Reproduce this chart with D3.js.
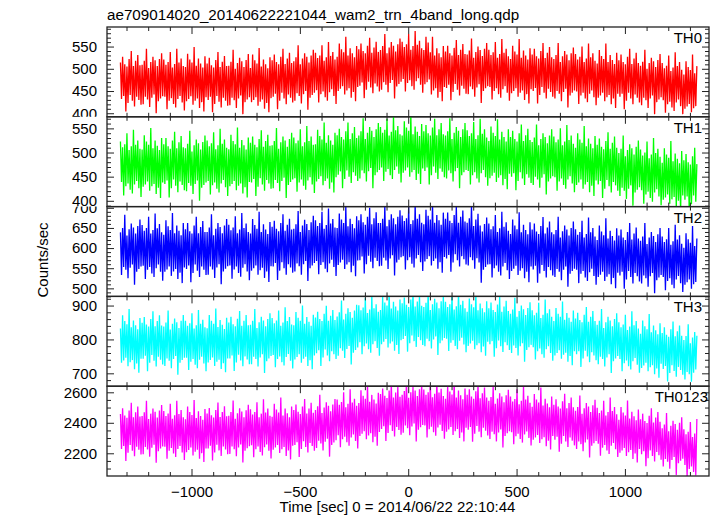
<!DOCTYPE html>
<html>
<head>
<meta charset="utf-8">
<script src="https://cdn.jsdelivr.net/npm/d3@7"></script>
<style>
  html, body { margin: 0; padding: 0; background: #fff; }
  svg { display: block; font-family: "Liberation Sans", Arial, Helvetica, sans-serif; }
</style>
</head>
<body>
<svg id="chart" width="717" height="516"></svg>
<script>
// ---------- data ----------
const title = "ae709014020_20140622221044_wam2_trn_4band_long.qdp";
const xLabel = "Time [sec] 0 = 2014/06/22 22:10:44";
const yLabel = "Counts/sec";
const bands = ["TH0", "TH1", "TH2", "TH3", "TH0123"];
const colors = ["#ff0000", "#00ff00", "#0000ff", "#00ffff", "#ff00ff"];
const timeStart = -1328;   // sec, first bin
const timeStep = 5;        // sec per bin
const xDomain = [-1390, 1388];
const xTicks = [-1000, -500, 0, 500, 1000];
const xMinorStep = 100;
const yDomains = [[392, 594], [388, 574], [480, 703], [662, 927], [2051, 2640]];
const yTicks = [[400, 450, 500, 550], [400, 450, 500, 550], [500, 550, 600, 650, 700], [700, 800, 900], [2200, 2400, 2600]];
const yMinorSteps = [10, 10, 10, 20, 50];

const th0 = [
514,432,527,439,510,404,505,423,522,441,540,428,506,415,518,437,531,430,508,419,
509,420,518,437,545,431,502,414,515,435,527,442,519,400,506,427,522,433,535,438,
521,437,509,409,515,428,538,434,503,421,511,413,545,432,514,439,523,424,506,406,
504,427,534,432,521,438,514,419,549,428,507,433,523,412,512,425,503,404,528,436,
512,430,525,437,508,402,503,421,520,439,538,426,504,413,516,435,529,428,506,417,
507,418,516,435,543,429,500,412,513,433,525,440,517,398,504,425,520,431,533,436,
502,425,532,430,519,436,512,417,547,426,505,431,521,410,510,423,501,402,526,434,
519,437,532,444,515,409,510,428,527,446,545,433,511,420,523,442,536,435,513,424,
517,428,526,445,553,439,510,422,523,443,535,450,527,408,514,435,530,441,543,446,
536,452,524,424,530,443,553,449,518,436,526,428,560,447,529,454,538,439,521,421,
527,450,557,455,544,461,537,442,572,451,530,456,546,435,535,448,526,427,551,459,
544,462,557,469,540,434,535,453,552,471,570,458,536,445,548,467,561,460,538,449,
542,453,551,470,578,464,535,447,548,468,560,475,552,433,539,460,555,466,568,471,
561,477,549,449,555,468,578,474,543,461,551,453,585,472,554,479,563,464,546,446,
542,465,572,470,559,476,537,442,572,451,530,456,546,435,535,448,526,427,551,459,
539,457,552,464,535,429,530,448,547,466,565,453,531,440,543,462,556,455,533,444,
532,443,541,460,568,454,525,437,538,458,550,465,542,423,529,450,545,456,558,461,
543,459,531,431,537,450,560,456,525,443,533,435,567,454,536,461,545,446,528,428,
522,445,552,450,539,456,532,437,567,446,525,451,541,430,530,443,521,422,546,454,
532,450,545,457,528,422,523,441,540,459,558,446,524,433,536,455,549,448,526,437,
522,433,531,450,558,444,515,427,528,448,540,455,532,413,519,440,535,446,548,451,
533,449,521,421,527,440,550,446,515,433,523,425,557,444,526,451,535,436,518,418,
512,435,542,440,529,446,522,427,557,436,515,441,531,420,520,433,511,412,536,444,
519,437,532,444,515,409,510,428,527,446,545,433,511,420,523,442,536,435,513,424,
507,418,516,435,543,429,500,412,513,433,525,440,517,398,504,425,520,431,533,436,
513,429,501,401,507,420,530,426,495,413,503,405,537,424,506,431,515,416,498,398,
487,410,517,415,504,421,497,402,532,411,490,416,506
];
const th1 = [
523,439,511,411,517,430,540,436,505,423,513,415,547,434,516,441,525,426,508,408,
506,429,536,434,523,440,516,421,551,430,509,435,525,414,514,427,505,406,530,438,
517,435,530,442,513,407,508,426,525,444,543,431,509,418,521,440,534,433,511,422,
509,420,518,437,545,431,502,414,515,435,527,442,519,400,506,427,522,433,535,438,
525,441,513,413,519,432,542,438,507,425,515,417,549,436,518,443,527,428,510,410,
507,430,537,435,524,441,517,422,552,431,510,436,526,415,515,428,506,407,531,439,
520,438,533,445,516,410,511,429,528,447,546,434,512,421,524,443,537,436,514,425,
515,426,524,443,551,437,508,420,521,441,533,448,525,406,512,433,528,439,541,444,
531,447,519,419,525,438,548,444,513,431,521,423,555,442,524,449,533,434,516,416,
517,440,547,445,534,451,527,432,562,441,520,446,536,425,525,438,516,417,541,449,
536,454,549,461,532,426,527,445,544,463,562,450,528,437,540,459,553,452,530,441,
535,446,544,463,571,457,528,440,541,461,553,468,545,426,532,453,548,459,561,464,
553,469,541,441,547,460,570,466,535,453,543,445,577,464,546,471,555,456,538,438,
535,458,565,463,552,469,545,450,580,459,538,464,554,443,543,456,534,435,559,467,
544,462,557,469,540,434,535,453,552,471,570,458,536,445,548,467,561,460,538,449,
535,446,544,463,571,457,528,440,541,461,553,468,545,426,532,453,548,459,561,464,
546,462,534,434,540,453,563,459,528,446,536,438,570,457,539,464,548,449,531,431,
524,447,554,452,541,458,534,439,569,448,527,453,543,432,532,445,523,424,548,456,
532,450,545,457,528,422,523,441,540,459,558,446,524,433,536,455,549,448,526,437,
522,433,531,450,558,444,515,427,528,448,540,455,532,413,519,440,535,446,548,451,
533,449,521,421,527,440,550,446,515,433,523,425,557,444,526,451,535,436,518,418,
510,433,540,438,527,444,520,425,555,434,513,439,529,418,518,431,509,410,534,442,
516,434,529,441,512,406,507,425,524,443,542,430,508,417,520,439,533,432,510,421,
499,410,508,427,535,421,492,404,505,425,517,432,509,390,496,417,512,423,525,428,
506,422,494,394,500,413,523,419,488,406,496,398,530,417,499,424,508,409,491,391,
479,402,509,407,496,413,489,394,524,403,482,408,498,387,487,400,478,379,503,411,
484,402,497,409,480,374,475,393,492,411,510,398,476
];
const th2 = [
639,533,650,553,683,546,631,525,647,551,661,559,651,509,636,541,655,548,671,554,
657,556,643,523,650,546,678,553,636,537,645,528,686,550,649,559,660,541,639,519,
633,541,669,547,654,554,645,531,687,542,637,548,656,523,643,539,632,513,662,552,
647,548,662,557,642,515,636,538,656,559,678,544,637,528,652,554,667,546,640,533,
640,534,651,554,684,547,632,526,648,552,662,560,652,510,637,542,656,549,672,555,
658,557,644,524,651,547,679,554,637,538,646,529,687,551,650,560,661,542,640,520,
636,544,672,550,657,557,648,534,690,545,640,551,659,526,646,542,635,516,665,555,
653,554,668,563,648,521,642,544,662,565,684,550,643,534,658,560,673,552,646,539,
648,542,659,562,692,555,640,534,656,560,670,568,660,518,645,550,664,557,680,563,
669,568,655,535,662,558,690,565,648,549,657,540,698,562,661,571,672,553,651,531,
650,558,686,564,671,571,662,548,704,559,654,565,673,540,660,556,649,530,679,569,
669,570,684,579,664,537,658,560,678,581,700,566,659,550,674,576,689,568,662,555,
662,556,673,576,706,569,654,548,670,574,684,582,674,532,659,564,678,571,694,577,
681,580,667,547,674,570,702,577,660,561,669,552,710,574,673,583,684,565,663,543,
659,567,695,573,680,580,671,557,713,568,663,574,682,549,669,565,658,539,688,578,
673,574,688,583,668,541,662,564,682,585,704,570,663,554,678,580,693,572,666,559,
663,557,674,577,707,570,655,549,671,575,685,564,656,514,641,546,660,553,676,559,
661,560,647,527,654,550,682,557,640,541,649,532,690,554,653,563,664,545,643,523,
635,543,671,549,656,556,647,533,689,544,639,550,658,525,645,541,634,515,664,554,
646,547,661,556,641,514,635,537,655,558,677,543,636,527,651,553,666,545,639,532,
634,528,645,548,678,541,626,520,642,546,656,554,646,504,631,536,650,543,666,549,
647,546,633,513,640,536,668,543,626,527,635,518,676,540,639,549,650,531,629,509,
620,528,656,534,641,541,632,518,674,529,624,535,643,510,630,526,619,500,649,539,
631,532,646,541,626,499,620,522,640,543,662,528,621,512,636,538,651,530,624,517,
618,512,629,532,662,525,610,504,626,530,640,538,630,488,615,520,634,527,650,533,
629,528,615,495,622,518,650,525,608,509,617,500,658,522,621,531,632,513,611,491,
601,509,637,515,622,522,613,499,655,510,605,516,624
];
const th3 = [
832,731,871,738,854,746,845,721,890,733,836,739,856,712,842,729,830,702,863,743,
849,743,866,752,844,706,838,731,860,754,883,737,839,720,854,749,871,740,841,726,
838,722,850,744,885,737,829,715,846,742,862,751,851,696,834,731,855,739,872,746,
855,746,840,710,848,734,877,742,832,725,842,715,887,740,846,749,858,729,836,706,
833,732,872,739,855,747,846,722,891,734,837,740,857,713,843,730,831,703,864,744,
850,744,867,753,845,707,839,732,861,755,884,738,840,721,855,750,872,741,842,727,
843,727,855,749,890,742,834,720,851,747,867,756,856,701,839,736,860,744,877,751,
863,754,848,718,856,742,885,750,840,733,850,723,895,748,854,757,866,737,844,714,
842,741,881,748,864,756,855,731,900,743,846,749,866,722,852,739,840,712,873,753,
865,759,882,768,860,722,854,747,876,770,899,753,855,736,870,765,887,756,857,742,
868,752,880,774,915,767,859,745,876,772,892,781,881,726,864,761,885,769,902,776,
901,792,886,756,894,780,923,788,878,771,888,761,933,786,892,795,904,775,882,752,
887,786,926,793,909,801,900,776,945,788,891,794,911,767,897,784,885,757,918,798,
907,801,924,810,902,764,896,789,918,812,941,795,897,778,912,807,929,798,899,784,
896,780,908,802,943,795,887,773,904,800,920,809,909,754,892,789,913,797,930,804,
911,802,896,766,904,790,933,798,888,781,898,771,943,796,902,805,914,785,892,762,
882,781,921,788,904,796,895,771,940,783,886,789,906,762,892,779,880,752,913,793,
892,786,909,795,887,749,881,774,903,797,926,780,882,763,897,792,914,783,884,769,
876,760,888,782,923,775,867,753,884,780,900,789,889,734,872,769,893,777,910,784,
886,777,871,741,879,765,908,773,863,756,873,746,918,771,877,780,889,760,867,737,
854,753,893,760,876,768,867,743,912,755,858,761,878,734,864,751,852,724,885,765,
862,756,879,765,857,719,851,744,873,767,896,750,852,733,867,762,884,753,854,739,
843,727,855,749,890,742,834,720,851,747,867,756,856,701,839,736,860,744,877,751,
851,742,836,706,844,730,873,738,828,721,838,711,883,736,842,745,854,725,832,702,
817,716,856,723,839,731,830,706,875,718,821,724,841,697,827,714,815,687,848,728,
819,713,836,722,814,676,808,701,830,724,853,707,809,690,824,719,841,710,811,696,
798,682,810,704,845,697,789,675,806,702,822,711,811
];
const th0123 = [
2458,2229,2495,2248,2447,2150,2433,2203,2481,2254,2531,2217,2436,2181,2469,2243,2506,2223,2441,2192,
2444,2194,2469,2242,2544,2225,2424,2178,2460,2236,2494,2256,2472,2138,2435,2214,2480,2231,2516,2245,
2478,2243,2444,2164,2461,2217,2525,2234,2427,2198,2450,2175,2545,2229,2458,2248,2483,2206,2436,2156,
2423,2207,2507,2221,2470,2238,2451,2185,2549,2210,2431,2224,2476,2165,2445,2201,2420,2143,2490,2232,
2460,2231,2497,2250,2449,2152,2435,2205,2483,2256,2533,2219,2438,2183,2471,2245,2508,2225,2443,2194,
2446,2196,2471,2244,2546,2227,2426,2180,2462,2238,2496,2258,2474,2140,2437,2216,2482,2233,2518,2247,
2488,2253,2454,2174,2471,2227,2535,2244,2437,2208,2460,2185,2555,2239,2468,2258,2493,2216,2446,2166,
2440,2224,2524,2238,2487,2255,2468,2202,2566,2227,2448,2241,2493,2182,2462,2218,2437,2160,2507,2249,
2483,2254,2520,2273,2472,2175,2458,2228,2506,2279,2556,2242,2461,2206,2494,2268,2531,2248,2466,2217,
2484,2234,2509,2282,2584,2265,2464,2218,2500,2276,2534,2296,2512,2178,2475,2254,2520,2271,2556,2285,
2553,2318,2519,2239,2536,2292,2600,2309,2502,2273,2525,2250,2620,2304,2533,2323,2558,2281,2511,2231,
2530,2314,2614,2328,2577,2345,2558,2292,2656,2317,2538,2331,2583,2272,2552,2308,2527,2250,2597,2339,
2588,2359,2625,2378,2577,2280,2563,2333,2611,2384,2661,2347,2566,2311,2599,2373,2636,2353,2571,2322,
2584,2334,2609,2382,2684,2365,2564,2318,2600,2376,2634,2396,2612,2278,2575,2354,2620,2371,2656,2385,
2618,2383,2584,2304,2601,2357,2665,2374,2567,2338,2590,2315,2685,2369,2598,2388,2623,2346,2576,2296,
2558,2342,2642,2356,2605,2373,2586,2320,2684,2345,2566,2359,2611,2300,2580,2336,2555,2278,2625,2367,
2583,2354,2620,2373,2572,2275,2558,2328,2606,2379,2656,2342,2561,2306,2594,2368,2631,2348,2566,2317,
2544,2294,2569,2342,2644,2325,2524,2278,2560,2336,2594,2356,2572,2238,2535,2314,2580,2331,2616,2345,
2573,2338,2539,2259,2556,2312,2620,2329,2522,2293,2545,2270,2640,2324,2553,2343,2578,2301,2531,2251,
2505,2289,2589,2303,2552,2320,2533,2267,2631,2292,2513,2306,2558,2247,2527,2283,2502,2225,2572,2314,
2518,2289,2555,2308,2507,2210,2493,2263,2541,2314,2591,2277,2496,2241,2529,2303,2566,2283,2501,2252,
2479,2229,2504,2277,2579,2260,2459,2213,2495,2271,2529,2291,2507,2173,2470,2249,2515,2266,2551,2280,
2498,2263,2464,2184,2481,2237,2545,2254,2447,2218,2470,2195,2565,2249,2478,2268,2503,2226,2456,2176,
2420,2204,2504,2218,2467,2235,2448,2182,2546,2207,2428,2221,2473,2162,2442,2198,2417,2140,2487,2229,
2423,2194,2460,2213,2412,2115,2398,2168,2446,2219,2496,2182,2401,2146,2434,2208,2471,2188,2406,2157,
2364,2114,2389,2162,2464,2145,2344,2098,2380,2156,2414,2176,2392,2058,2355,2134,2400,2151,2436,2165,
2358,2123,2324,2044,2341,2097,2405,2114,2307,2078,2330,2055,2425
];
const seriesValues = [th0, th1, th2, th3, th0123];

// ---------- drawing ----------
const svg = d3.select("#chart");
const plotLeft = 107, plotRight = 709, plotTop = 27, plotBottom = 476;
const ph = (plotBottom - plotTop) / bands.length;
const x = d3.scaleLinear().domain(xDomain).range([plotLeft, plotRight]);
const xMinor = d3.range(Math.ceil(xDomain[0] / xMinorStep) * xMinorStep, xDomain[1], xMinorStep)
  .filter(v => !xTicks.includes(v));
const fontSize = 15;

function styleAxis(g) {
  g.select(".domain").remove();
  g.selectAll(".tick line").attr("stroke", "#222").attr("stroke-width", 1);
  g.selectAll(".tick text").attr("font-size", fontSize).attr("fill", "#000")
    .attr("font-family", "'Liberation Sans', Arial, Helvetica, sans-serif");
}

bands.forEach((name, i) => {
  const y0 = plotTop + i * ph, y1 = plotTop + (i + 1) * ph;
  const y = d3.scaleLinear().domain(yDomains[i]).range([y1, y0]);
  const vals = seriesValues[i];

  svg.append("clipPath").attr("id", "clip" + i)
    .append("rect").attr("x", plotLeft).attr("y", y0).attr("width", plotRight - plotLeft).attr("height", ph);
  svg.append("clipPath").attr("id", "lclip" + i)
    .append("rect").attr("x", 0).attr("y", y0).attr("width", plotRight).attr("height", ph);

  const line = d3.line()
    .x((d, j) => x(timeStart + j * timeStep))
    .y(d => y(d));

  svg.append("path")
    .datum(vals)
    .attr("clip-path", "url(#clip" + i + ")")
    .attr("fill", "none")
    .attr("stroke", colors[i])
    .attr("stroke-width", 1.3)
    .attr("stroke-linejoin", "bevel")
    .attr("d", line);

  const d0 = yDomains[i][0], d1 = yDomains[i][1], ms = yMinorSteps[i];
  const yMinor = d3.range(Math.ceil(d0 / ms) * ms, d1, ms).filter(v => !yTicks[i].includes(v));

  svg.append("g").attr("clip-path", "url(#lclip" + i + ")")
    .append("g").attr("transform", `translate(${plotLeft},0)`)
    .call(d3.axisLeft(y).tickValues(yTicks[i]).tickSize(-7).tickPadding(10).tickFormat(d3.format("d")))
    .call(styleAxis);
  svg.append("g").attr("transform", `translate(${plotLeft},0)`)
    .call(d3.axisLeft(y).tickValues(yMinor).tickSize(-4).tickFormat(""))
    .call(styleAxis);
  svg.append("g").attr("transform", `translate(${plotRight},0)`)
    .call(d3.axisRight(y).tickValues(yTicks[i]).tickSize(-7).tickFormat(""))
    .call(styleAxis);
  svg.append("g").attr("transform", `translate(${plotRight},0)`)
    .call(d3.axisRight(y).tickValues(yMinor).tickSize(-4).tickFormat(""))
    .call(styleAxis);
  svg.append("g").attr("transform", `translate(0,${y0})`)
    .call(d3.axisTop(x).tickValues(xTicks).tickSize(-7).tickFormat(""))
    .call(styleAxis);
  svg.append("g").attr("transform", `translate(0,${y0})`)
    .call(d3.axisTop(x).tickValues(xMinor).tickSize(-4).tickFormat(""))
    .call(styleAxis);
  const isLast = i === bands.length - 1;
  svg.append("g").attr("transform", `translate(0,${y1})`)
    .call(d3.axisBottom(x).tickValues(xTicks).tickSize(-7).tickPadding(10)
      .tickFormat(isLast ? d3.format("d") : ""))
    .call(styleAxis);
  svg.append("g").attr("transform", `translate(0,${y1})`)
    .call(d3.axisBottom(x).tickValues(xMinor).tickSize(-4).tickFormat(""))
    .call(styleAxis);

  svg.append("rect").attr("x", plotLeft).attr("y", y0).attr("width", plotRight - plotLeft).attr("height", ph)
    .attr("fill", "none").attr("stroke", "#222").attr("stroke-width", 1.3);

  svg.append("text").attr("x", isLast ? plotRight - 1 : plotRight - 7).attr("y", y0 + 16)
    .attr("text-anchor", "end").attr("font-size", fontSize).attr("fill", "#000")
    .text(name);
});

svg.append("text").attr("x", plotLeft).attr("y", 19.5)
  .attr("font-size", 15.2).attr("fill", "#000").text(title);

svg.append("text").attr("x", 397.5).attr("y", 512)
  .attr("text-anchor", "middle").attr("font-size", fontSize).attr("fill", "#000").text(xLabel);

svg.append("text")
  .attr("transform", `translate(48,260) rotate(-90)`)
  .attr("text-anchor", "middle").attr("font-size", fontSize).attr("fill", "#000").text(yLabel);
</script>
</body>
</html>
